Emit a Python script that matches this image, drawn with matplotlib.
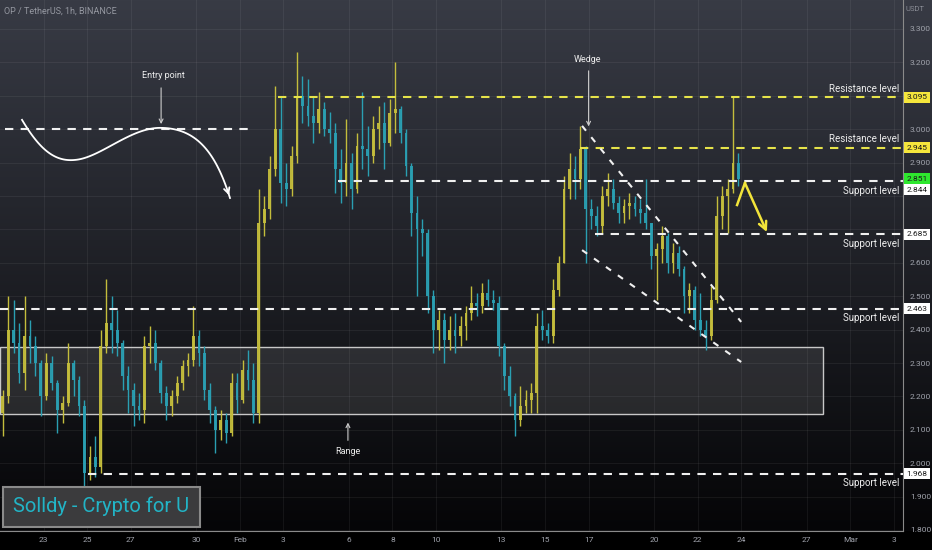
import matplotlib
matplotlib.use('Agg')
import matplotlib.pyplot as plt
from matplotlib.patches import Rectangle
import numpy as np

plt.rcParams['font.family'] = ['Roboto', 'DejaVu Sans']

# 6h candles, OP/USDT, starting Jan 21 00:00 (x = days since Jan 21)
first_open = 2.15
closes = [2.20, 2.40, 2.36, 2.27, 2.38, 2.35, 2.30, 2.20, 2.30, 2.24,
          2.16, 2.18, 2.30, 2.25, 2.17, 1.97, 2.02, 1.99, 2.35, 2.42,
          2.40, 2.36, 2.26, 2.22, 2.17, 2.16, 2.35, 2.36, 2.30, 2.21,
          2.17, 2.20, 2.24, 2.29, 2.31, 2.38, 2.33, 2.22, 2.16, 2.10,
          2.13, 2.09, 2.24, 2.19, 2.28, 2.25, 2.15, 2.72, 2.76, 2.88,
          3.00, 2.84, 2.82, 2.92, 3.10, 3.07, 3.04, 3.02, 3.06, 3.00,
          2.99, 2.88, 2.84, 2.90, 2.82, 2.95, 2.94, 2.92, 3.00, 3.02,
          2.96, 3.05, 3.06, 2.99, 2.89, 2.75, 2.70, 2.69, 2.50, 2.40,
          2.43, 2.37, 2.40, 2.38, 2.41, 2.45, 2.48, 2.47, 2.51, 2.49,
          2.48, 2.35, 2.26, 2.20, 2.13, 2.17, 2.19, 2.21, 2.41, 2.40,
          2.38, 2.52, 2.60, 2.82, 2.88, 2.85, 2.94, 2.76, 2.74, 2.71,
          2.80, 2.82, 2.78, 2.75, 2.77, 2.78, 2.76, 2.75, 2.72, 2.62,
          2.64, 2.68, 2.60, 2.63, 2.58, 2.50, 2.52, 2.43, 2.40, 2.38,
          2.49, 2.74, 2.80, 2.82, 2.90, 2.851]
highs = [2.22, 2.50, 2.49, 2.42, 2.50, 2.43, 2.38, 2.31, 2.33, 2.32,
         2.25, 2.20, 2.36, 2.31, 2.26, 2.19, 2.05, 2.08, 2.40, 2.55,
         2.50, 2.46, 2.37, 2.29, 2.24, 2.21, 2.38, 2.41, 2.40, 2.31,
         2.23, 2.22, 2.26, 2.31, 2.33, 2.47, 2.40, 2.35, 2.24, 2.17,
         2.16, 2.15, 2.27, 2.27, 2.31, 2.34, 2.30, 2.82, 2.80, 2.92,
         3.13, 3.10, 2.90, 2.95, 3.23, 3.16, 3.15, 3.10, 3.11, 3.08,
         3.05, 3.02, 2.94, 3.03, 2.93, 2.99, 3.11, 3.01, 3.04, 3.07,
         3.08, 3.09, 3.20, 3.07, 3.00, 2.90, 2.80, 2.73, 2.70, 2.52,
         2.46, 2.45, 2.44, 2.45, 2.44, 2.47, 2.53, 2.51, 2.54, 2.55,
         2.52, 2.50, 2.36, 2.29, 2.21, 2.23, 2.22, 2.24, 2.45, 2.46,
         2.42, 2.55, 2.62, 2.86, 2.93, 2.92, 3.01, 2.95, 2.79, 2.77,
         2.83, 2.87, 2.85, 2.80, 2.79, 2.81, 2.80, 2.79, 2.85, 2.72,
         2.66, 2.71, 2.69, 2.66, 2.65, 2.59, 2.54, 2.53, 2.51, 2.43,
         2.53, 2.80, 2.83, 2.85, 3.095, 2.93]
lows = [2.08, 2.18, 2.33, 2.24, 2.22, 2.30, 2.26, 2.14, 2.19, 2.22,
        2.09, 2.12, 2.17, 2.20, 2.14, 1.92, 1.95, 1.96, 1.97, 2.33,
        2.33, 2.32, 2.22, 2.15, 2.11, 2.13, 2.12, 2.30, 2.28, 2.18,
        2.13, 2.14, 2.18, 2.22, 2.26, 2.29, 2.29, 2.19, 2.12, 2.03,
        2.07, 2.06, 2.08, 2.15, 2.18, 2.22, 2.12, 2.12, 2.68, 2.73,
        2.86, 2.78, 2.77, 2.80, 2.90, 3.02, 3.01, 2.96, 2.99, 2.98,
        2.96, 2.81, 2.78, 2.80, 2.76, 2.81, 2.88, 2.86, 2.90, 2.94,
        2.88, 2.95, 2.99, 2.96, 2.86, 2.68, 2.50, 2.62, 2.45, 2.33,
        2.34, 2.30, 2.34, 2.33, 2.35, 2.37, 2.43, 2.44, 2.45, 2.47,
        2.46, 2.32, 2.22, 2.17, 2.08, 2.11, 2.15, 2.15, 2.15, 2.37,
        2.36, 2.36, 2.50, 2.60, 2.79, 2.79, 2.82, 2.60, 2.70, 2.68,
        2.69, 2.77, 2.76, 2.72, 2.72, 2.73, 2.74, 2.72, 2.70, 2.58,
        2.49, 2.60, 2.57, 2.57, 2.56, 2.45, 2.45, 2.40, 2.38, 2.34,
        2.37, 2.48, 2.70, 2.69, 2.81, 2.83]

tick_days = [2, 4, 6, 9, 11, 13, 16, 18, 20, 23, 25, 27, 30, 32, 34, 37, 39, 41]
tick_names = ['23', '25', '27', '30', 'Feb', '3', '6', '8', '10', '13', '15',
              '17', '20', '22', '24', '27', 'Mar', '3']
price_ticks = [1.8, 1.9, 2.0, 2.1, 2.2, 2.3, 2.4, 2.5, 2.6, 2.7, 2.8, 2.9, 3.0, 3.1, 3.2, 3.3]
hidden_ticks = [2.7, 2.8, 3.1]  # covered by the level boxes on the axis

# levels: (price, start day, label, colour)
levels = [(3.095, 12.75, 'Resistance level', '#e6e34a'),
          (2.945, 26.6, 'Resistance level', '#e6e34a'),
          (2.844, 15.5, 'Support level', '#f0f0f0'),
          (2.685, 27.3, 'Support level', '#f0f0f0'),
          (2.463, 0.0, 'Support level', '#f0f0f0'),
          (1.968, 4.04, 'Support level', '#f0f0f0')]
last_price = 2.851
range_box = (0.0, 37.75, 2.147, 2.348)

W, H = 932, 550
fig = plt.figure(figsize=(W / 100, H / 100), dpi=100)

# gradient background
bg = fig.add_axes([0, 0, 1, 1])
top = np.array([56, 59, 69]) / 255
bot = np.array([5, 5, 7]) / 255
rows = np.linspace(0, 1, 531)[:, None]
grad = top * (1 - rows) + bot * rows
img = np.zeros((H, 1, 3))
img[:531, 0, :] = grad
bg.imshow(img, aspect='auto', extent=[0, 1, 0, 1])
bg.axis('off')

ax = fig.add_axes([0, 19 / H, 903 / W, 531 / H])
ax.set_facecolor('none')
ax.set_xlim(0, 903 / 21.8)
ax.set_ylim(3.3 - (531 - 29) / 334, 3.3 + 29 / 334)

# candles
opens = [first_open] + closes[:-1]
xs = np.arange(len(closes)) * 0.25 + 0.125
up_c, dn_c = '#c4bd3c', '#2a9fb2'
cols = [up_c if c >= o else dn_c for o, c in zip(opens, closes)]
ax.vlines(xs, lows, highs, colors=cols, lw=1.0, zorder=3)
body_lo = np.minimum(opens, closes)
body_h = np.abs(np.array(closes) - np.array(opens))
ax.bar(xs, body_h, bottom=body_lo, width=0.13, color=cols, zorder=3, alpha=0.95)

# range box
ax.add_patch(Rectangle((range_box[0], range_box[2]), range_box[1] - range_box[0],
                       range_box[3] - range_box[2], fc=(1, 1, 1, 0.1),
                       ec='#c8c8c8', lw=1.0, zorder=2))

xmax = ax.get_xlim()[1]
ytr = ax.get_yaxis_transform()
for p, x0, lab, c in levels:
    ax.plot([x0, xmax], [p, p], color=c, lw=1.5, dashes=(4, 3.5), zorder=4)
    dy = 0.025 if lab.startswith('Res') else -0.028
    ax.text(0.9956, p + dy, lab, transform=ytr, ha='right', va='center',
            color='#eeeeee', fontsize=7, zorder=6)

# entry point line and curve
ax.plot([0.23, 11.47], [3.0, 3.0], color='#f0f0f0', lw=1.5, dashes=(4, 3.5), zorder=4)


def bez(p0, p1, p2, p3, n=40):
    s = np.linspace(0, 1, n)[:, None]
    p0, p1, p2, p3 = map(np.array, (p0, p1, p2, p3))
    return (1 - s) ** 3 * p0 + 3 * (1 - s) ** 2 * s * p1 + 3 * (1 - s) * s ** 2 * p2 + s ** 3 * p3


curve = np.vstack([bez((1.01, 3.028), (1.83, 2.938), (2.52, 2.902), (3.44, 2.908)),
                   bez((3.44, 2.908), (4.59, 2.914), (5.96, 3.004), (7.34, 3.004)),
                   bez((7.34, 3.004), (8.94, 3.004), (9.86, 2.938), (10.55, 2.794))])
ax.plot(curve[:, 0], curve[:, 1], color='white', lw=1.3, zorder=5)
ax.annotate('', xy=curve[-1], xytext=curve[-4],
            arrowprops=dict(arrowstyle='->', color='white', lw=1.3,
                            mutation_scale=10), zorder=5)

ax.text(7.48, 3.162, 'Entry point', color='#eeeeee', fontsize=6.5, ha='center', va='center')
ax.annotate('', xy=(7.39, 3.007), xytext=(7.39, 3.132),
            arrowprops=dict(arrowstyle='->', color='#cccccc', lw=0.8, mutation_scale=7))

ax.text(26.97, 3.21, 'Wedge', color='#eeeeee', fontsize=6.5, ha='center', va='center')
ax.annotate('', xy=(27.0, 3.0), xytext=(27.0, 3.183),
            arrowprops=dict(arrowstyle='->', color='#cccccc', lw=0.8, mutation_scale=7))

ax.text(15.96, 2.036, 'Range', color='#eeeeee', fontsize=6.5, ha='center', va='center')
ax.annotate('', xy=(15.96, 2.13), xytext=(15.96, 2.06),
            arrowprops=dict(arrowstyle='->', color='#cccccc', lw=0.8, mutation_scale=7))

# wedge lines
ax.plot([26.7, 34.0], [3.010, 2.423], color='#f0f0f0', lw=1.5, dashes=(3, 4), zorder=4)
ax.plot([26.7, 34.0], [2.638, 2.303], color='#f0f0f0', lw=1.5, dashes=(3, 4), zorder=4)

# yellow projection arrow
ax.plot([33.81, 34.17], [2.773, 2.839], color='#f2e43a', lw=1.8, zorder=6)
ax.annotate('', xy=(35.18, 2.692), xytext=(34.17, 2.839),
            arrowprops=dict(arrowstyle='->', color='#f2e43a', lw=1.8,
                            mutation_scale=14, shrinkA=0, shrinkB=0), zorder=6)

# axes styling
ax.yaxis.tick_right()
ax.set_yticks(price_ticks)
ax.set_yticklabels(['' if v in hidden_ticks else '%.3f' % v for v in price_ticks])
ax.set_xticks(tick_days)
ax.set_xticklabels(tick_names)
ax.tick_params(axis='both', length=0, colors='#a0a3ac', labelsize=6)
ax.tick_params(axis='y', pad=5)
ax.tick_params(axis='x', pad=4)
ax.grid(color='white', alpha=0.06, lw=0.8)
for s in ['top', 'left']:
    ax.spines[s].set_visible(False)
ax.spines['bottom'].set_color('#8a8a8a')
ax.spines['right'].set_color('#8a8a8a')

# price boxes on axis
boxes = [(3.095, '3.095', '#f5e63c', '#1a1a1a'),
         (2.945, '2.945', '#f5e63c', '#1a1a1a'),
         (last_price, '2.851', '#2ee82e', '#1a1a1a'),
         (2.818, '2.844', '#ffffff', '#1a1a1a'),
         (2.685, '2.685', '#ffffff', '#1a1a1a'),
         (2.463, '2.463', '#ffffff', '#1a1a1a'),
         (1.968, '1.968', '#ffffff', '#1a1a1a')]
for p, lab, fc, tc in boxes:
    ax.text(1.004, p, lab, transform=ytr, ha='left', va='center', color=tc,
            fontsize=6, clip_on=False, zorder=10,
            bbox=dict(boxstyle='square,pad=0.3', fc=fc, ec='none'))

fig.text(4 / W, 1 - 11 / H, 'OP / TetherUS, 1h, BINANCE', color='#9598a1',
         fontsize=6.5, va='center')
fig.text(906 / W, 1 - 9 / H, 'USDT', color='#8a8d96', fontsize=5.5, va='center')

# watermark
fig.add_artist(Rectangle((3 / W, (H - 527) / H), 197 / W, 40 / H,
                         transform=fig.transFigure, fc='#3b3b3d', ec='#8a8a8a', lw=1.5))
fig.text(101 / W, 1 - 506 / H, 'Solldy - Crypto for U', color='#22b4c6',
         fontsize=14.5, ha='center', va='center')

fig.savefig('out.png', dpi=100)
